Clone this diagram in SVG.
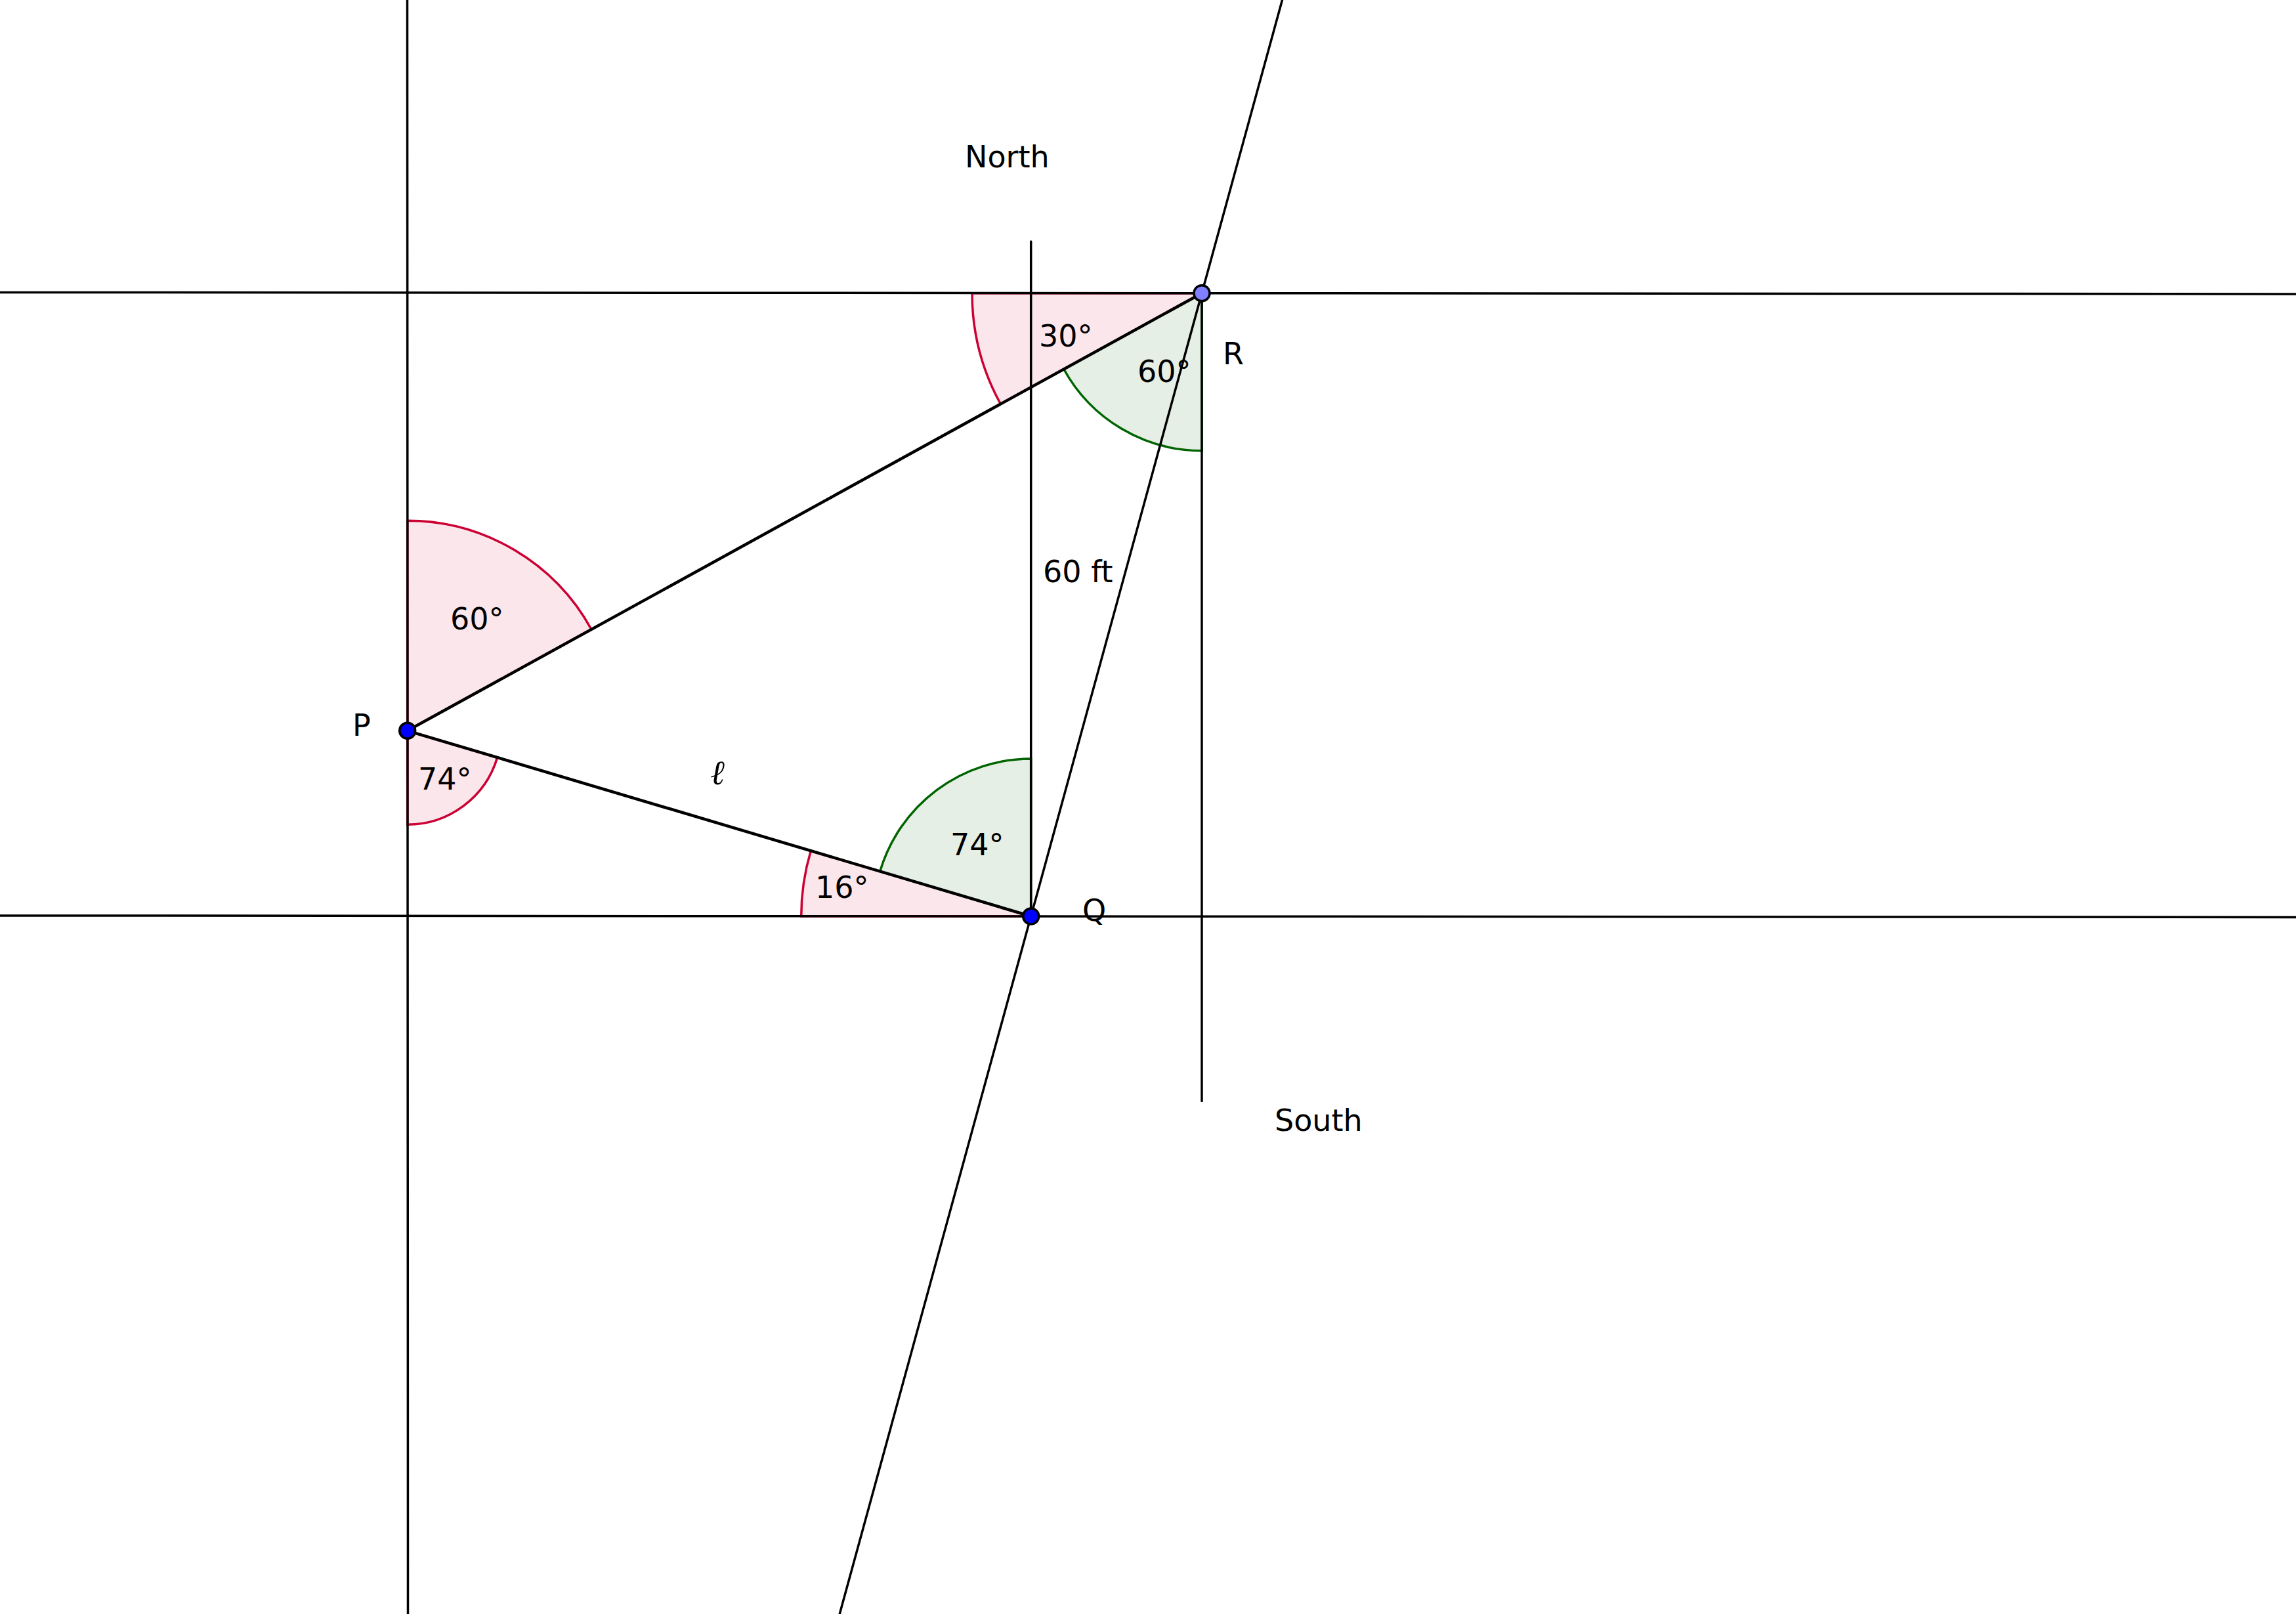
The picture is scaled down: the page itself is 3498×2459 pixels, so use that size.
<svg xmlns="http://www.w3.org/2000/svg" width="3498" height="2459" viewBox="0 0 3498 2459">
<style>
.bg{fill:#ffffff}
.pink{fill:#fae6eb;stroke:#cc0033;stroke-width:3.5}
.green{fill:#e5efe5;stroke:#006400;stroke-width:3.5}
.ln{stroke:#000;stroke-width:3.5;fill:none;stroke-linecap:round}
.seg{stroke:#000;stroke-width:4.5;fill:none;stroke-linecap:round}
.pt{stroke:#000;stroke-width:3.5}
.lbl{font-family:"DejaVu Sans","Liberation Sans",sans-serif;font-size:46px;fill:#000}
.ell{font-family:"DejaVu Serif","Liberation Serif",serif;font-style:italic;font-size:52px;fill:#000}
</style>
<rect class="bg" x="0" y="0" width="3498" height="2459"/>
<g id="angles">
<path id="angle-P60" class="pink" d="M620.7,1113.3 L620.7,793.3 A320,320 0 0 1 901.0,958.9 Z"/>
<path id="angle-P74" class="pink" d="M620.7,1113.3 L757.7,1154.1 A143,143 0 0 1 620.7,1256.3 Z"/>
<path id="angle-Q16" class="pink" d="M1570.7,1396 L1220.7,1396 A350,350 0 0 1 1235.3,1296.2 Z"/>
<path id="angle-Q74" class="green" d="M1570.7,1396 L1340.7,1327.6 A240,240 0 0 1 1570.7,1156 Z"/>
<path id="angle-R30" class="pink" d="M1831,446.7 L1524.4,615.5 A350,350 0 0 1 1481,446.7 Z"/>
<path id="angle-R60" class="green" d="M1831,446.7 L1831,686.7 A240,240 0 0 1 1620.8,562.5 Z"/>
</g>
<g id="connectors">
<line class="ln" x1="0" y1="445.4" x2="3498" y2="447.9"/>
<line class="ln" x1="0" y1="1394.9" x2="3498" y2="1397.4"/>
<line class="ln" x1="620.5" y1="0" x2="621.5" y2="2459"/>
<line class="ln" x1="1953.5" y1="0" x2="1279.2" y2="2459"/>
<line class="ln" x1="1570.7" y1="368" x2="1570.7" y2="1396"/>
<line class="ln" x1="1831" y1="446.7" x2="1831" y2="1677.6"/>
<line class="seg" x1="620.7" y1="1113.3" x2="1831" y2="446.7"/>
<line class="seg" x1="620.7" y1="1113.3" x2="1570.7" y2="1396"/>
</g>
<g id="node-P">
<circle class="pt" cx="620.7" cy="1113.3" r="12" fill="#0000ff"/>
<text class="lbl" x="537" y="1120.5">P</text>
</g>
<g id="node-Q">
<circle class="pt" cx="1570.7" cy="1396" r="12" fill="#0000ff"/>
<text class="lbl" x="1649" y="1403">Q</text>
</g>
<g id="node-R">
<circle class="pt" cx="1831" cy="446.7" r="12" fill="#7f7fff"/>
<text class="lbl" x="1863" y="555">R</text>
</g>
<g id="labels">
<text class="lbl" x="1470" y="255">North</text>
<text class="lbl" x="1942" y="1723">South</text>
<text class="lbl" x="1589" y="886.5">60 ft</text>
<text class="ell" x="1093" y="1195" text-anchor="middle">ℓ</text>
<text class="lbl" x="686" y="958.5">60°</text>
<text class="lbl" x="637" y="1202.5">74°</text>
<text class="lbl" x="1242" y="1368">16°</text>
<text class="lbl" x="1448" y="1302.5">74°</text>
<text class="lbl" x="1583" y="528">30°</text>
<text class="lbl" x="1733" y="581.5">60°</text>
</g>
</svg>
